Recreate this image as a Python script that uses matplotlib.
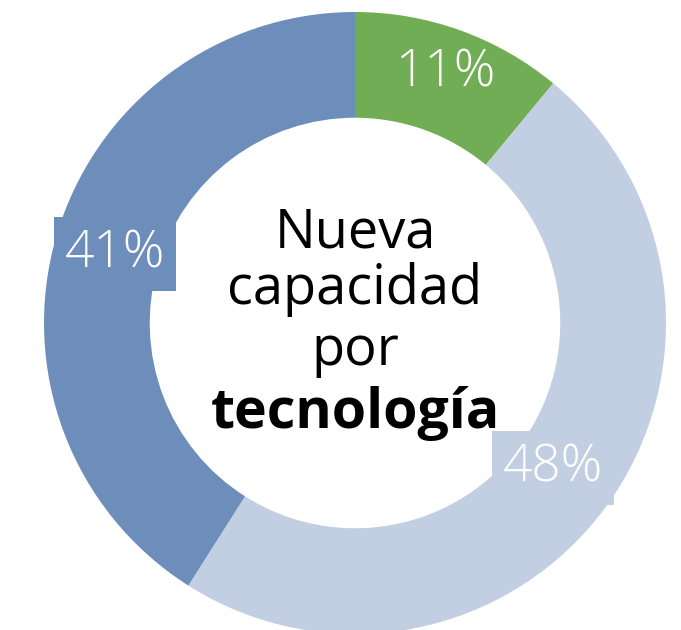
import matplotlib.pyplot as plt

# shares of new capacity by technology
shares = [11, 48, 41]
labels = ["11%", "48%", "41%"]
colors = ["#70ad55", "#c2cee1", "#6d8eba"]
center_lines = ["Nueva", "capacidad", "por", "tecnología"]

W, H = 681, 630
cx, cy, R = 355, 323, 311

def to_data(px, py):
    return (px - cx) / R, (cy - py) / R

fig = plt.figure(figsize=(W / 100, H / 100), dpi=100)
ax = fig.add_axes([0, 0, 1, 1])
ax.pie(shares, colors=colors, startangle=90, counterclock=False,
       wedgeprops=dict(width=0.34, linewidth=0))
ax.set_xlim(-cx / R, (W - cx) / R)
ax.set_ylim(-(H - cy) / R, cy / R)
ax.set_aspect("equal")
ax.axis("off")

# percentage labels (pixel positions)
label_pos = [(445, 73), (553, 468), (115, 254)]
for lab, col, (px, py) in zip(labels, colors, label_pos):
    x, y = to_data(px, py)
    box = None if lab == "11%" else dict(boxstyle="square,pad=0.22", fc=col, ec="none")
    ax.text(x, y, lab, ha="center", va="center", color="white",
            fontsize=37, family="Open Sans", fontweight="light", bbox=box)

# centre title, one line at a time on its baseline
baselines = [247, 304, 365, 428]
for i, (line, py) in enumerate(zip(center_lines, baselines)):
    x, y = to_data(355, py)
    ax.text(x, y, line, ha="center", va="baseline", color="black",
            fontsize=40 if i == 3 else 39, family="Open Sans",
            fontweight="bold" if i == 3 else "normal")

fig.savefig("out.png", dpi=100)
